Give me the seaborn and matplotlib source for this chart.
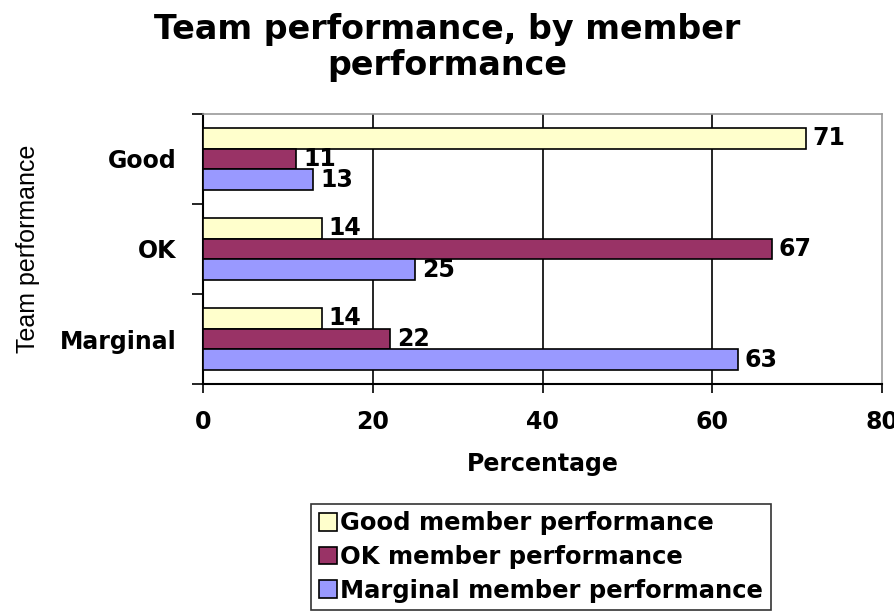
import numpy as np
import pandas as pd
import matplotlib
matplotlib.use("Agg")
import matplotlib.pyplot as plt
import seaborn as sns

# data
team_levels = ["Good", "OK", "Marginal"]
member_levels = ["Good member performance", "OK member performance", "Marginal member performance"]
good_member = [71, 14, 14]
ok_member = [11, 67, 22]
marginal_member = [13, 25, 63]

colors = ["#FFFFCC", "#993366", "#9999FF"]

rows = []
for i, team in enumerate(team_levels):
    for member, vals in zip(member_levels, [good_member, ok_member, marginal_member]):
        rows.append({"Team": team, "Member": member, "Percentage": vals[i]})
df = pd.DataFrame(rows)

sns.set_style("white")
plt.rcParams["font.family"] = ["DejaVu Sans"]
plt.rcParams["text.color"] = "black"
plt.rcParams["axes.labelcolor"] = "black"
plt.rcParams["xtick.color"] = "black"
plt.rcParams["ytick.color"] = "black"
plt.rcParams["xtick.bottom"] = True
plt.rcParams["ytick.left"] = True

FS = 17

fig = plt.figure(figsize=(8.95, 6.13), dpi=100)
ax = fig.add_axes([203 / 895, 1 - 384 / 613, (882 - 203) / 895, (384 - 114) / 613])

sns.barplot(data=df, y="Team", x="Percentage", hue="Member", order=team_levels,
            hue_order=member_levels, palette=colors, orient="h", width=0.69,
            edgecolor="black", linewidth=1.2, saturation=1, errorbar=None, ax=ax,
            zorder=3)

for cont in ax.containers:
    ax.bar_label(cont, padding=5, fontsize=FS, fontweight="bold")

ax.set_xlim(0, 80)
ax.set_ylim(2.5, -0.5)
ax.set_xticks([0, 20, 40, 60, 80])
ax.set_xticklabels(["0", "20", "40", "60", "80"], fontsize=FS, fontweight="bold")
ax.set_yticks(range(3))
ax.set_yticklabels(team_levels, fontsize=FS, fontweight="bold")
ax.set_yticks([-0.5, 0.5, 1.5, 2.5], minor=True)
ax.tick_params(axis="y", which="major", length=0, pad=19)
ax.tick_params(axis="y", which="minor", left=True, length=8, width=1.2, direction="out", color="black")
ax.tick_params(axis="x", bottom=True, length=6.5, width=1.2, direction="out", color="black", pad=12)

for x in [20, 40, 60]:
    ax.axvline(x, color="black", lw=1.2, zorder=1)

for side in ["top", "right"]:
    ax.spines[side].set_color("#999999")
    ax.spines[side].set_linewidth(1.2)
for side in ["left", "bottom"]:
    ax.spines[side].set_color("black")
    ax.spines[side].set_linewidth(1.5)

ax.set_xlabel("Percentage", fontsize=FS, fontweight="bold", labelpad=13)
ax.set_ylabel("Team performance", fontsize=18, family="Liberation Sans", labelpad=14)

fig.suptitle("Team performance, by member\nperformance", fontsize=24, fontweight="bold",
             y=0.978, linespacing=1.1)

handles, labels = ax.get_legend_handles_labels()
ax.legend_.remove()
leg = fig.legend(handles, labels, loc="center", bbox_to_anchor=(541 / 895, 1 - 557 / 613),
                 fontsize=17.5, frameon=True, fancybox=False, edgecolor="black",
                 handlelength=0.75, handleheight=0.75, handletextpad=0.15,
                 labelspacing=0.4, borderpad=0.3, borderaxespad=0)
leg.get_frame().set_linewidth(1.2)
for t in leg.get_texts():
    t.set_fontweight("bold")

fig.savefig("out.png", dpi=100)
